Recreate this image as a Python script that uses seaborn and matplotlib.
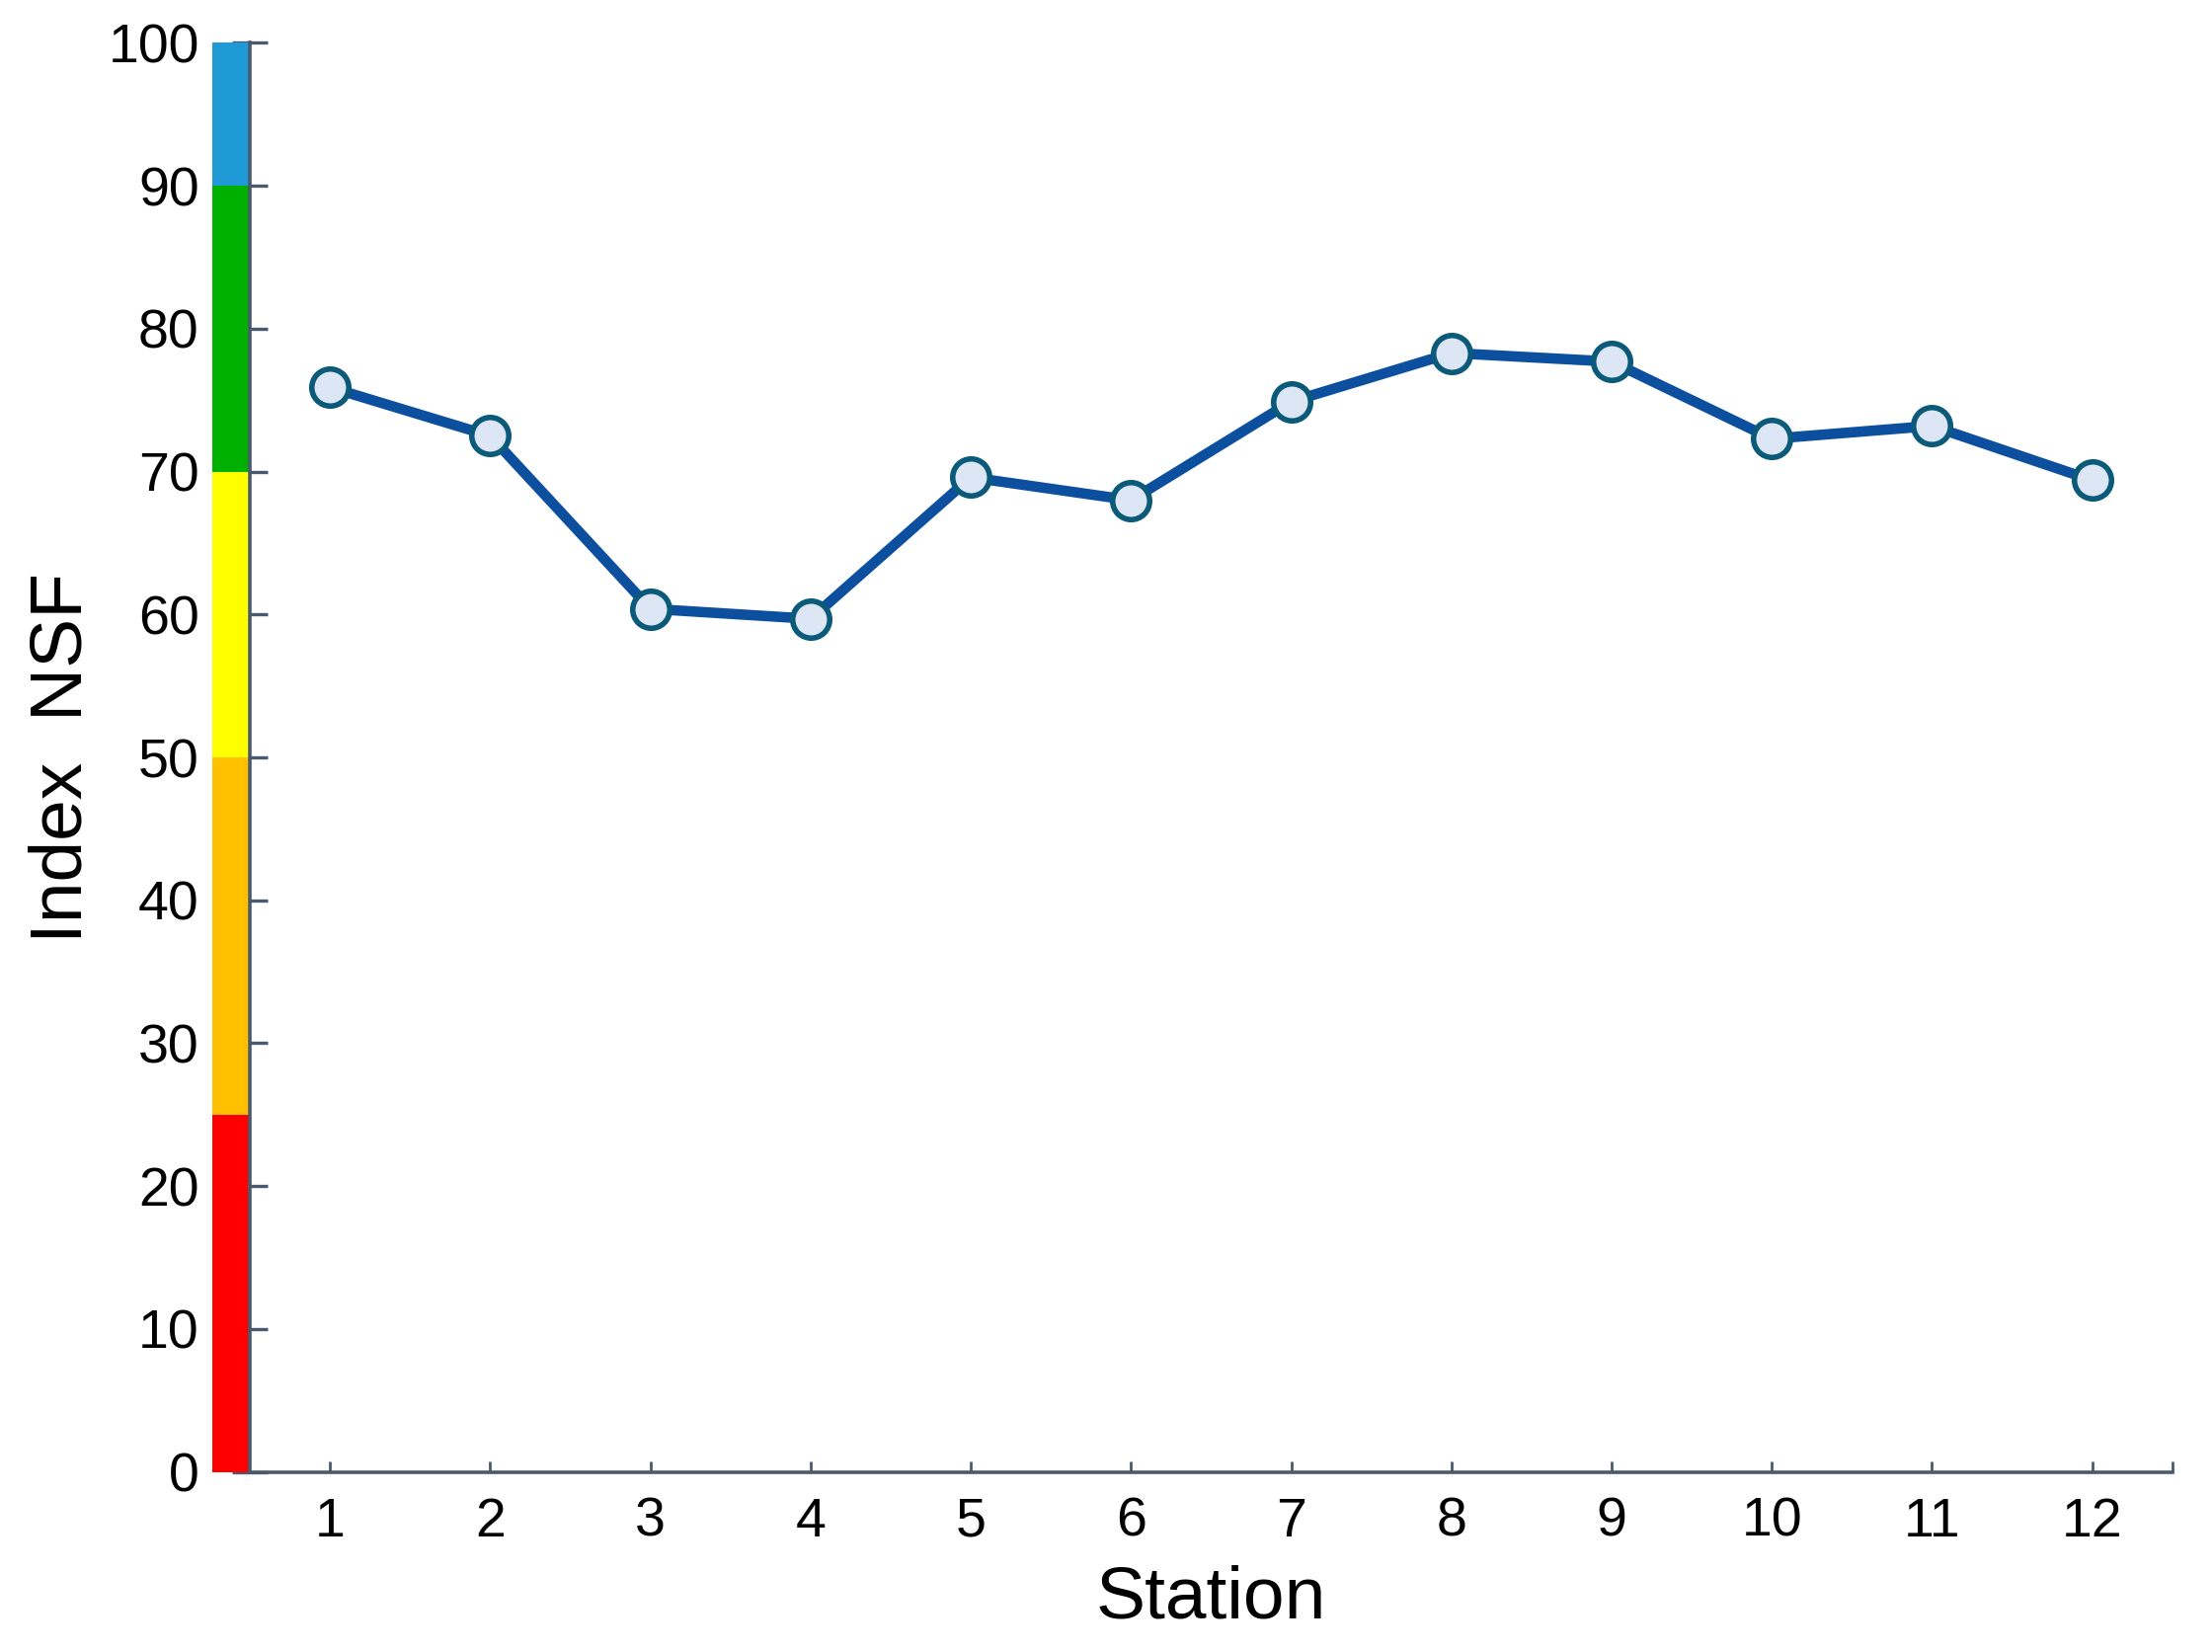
import matplotlib
matplotlib.use("Agg")
import matplotlib.pyplot as plt
import matplotlib.transforms as mtransforms
from matplotlib.ticker import MultipleLocator, FixedLocator
import pandas as pd
import seaborn as sns

# data
stations = [1, 2, 3, 4, 5, 6, 7, 8, 9, 10, 11, 12]
nsf_index = [75.9, 72.5, 60.4, 59.7, 69.6, 68.0, 74.9, 78.3, 77.7, 72.3, 73.2, 69.4]

# quality class bands on the y axis
band_low = [0, 25, 50, 70, 90]
band_high = [25, 50, 70, 90, 100]
band_colors = ["#ff0000", "#ffc000", "#ffff00", "#00b000", "#1f9ad6"]

sns.set_style("white")
plt.rcParams['font.family'] = ['Liberation Sans', 'DejaVu Sans']
plt.rcParams['text.color'] = 'black'
plt.rcParams['axes.labelcolor'] = 'black'
plt.rcParams['xtick.labelcolor'] = 'black'
plt.rcParams['ytick.labelcolor'] = 'black'

df = pd.DataFrame({"Station": stations, "NSF": nsf_index})

fig = plt.figure(figsize=(11.2, 8.365), dpi=200)
ax = fig.add_axes([0.113, 0.109, 0.869, 0.865])

axis_col = "#4a5a6e"

sns.lineplot(data=df, x="Station", y="NSF", ax=ax, color="#0b4f9e", linewidth=3.8,
             marker="o", markersize=13.5, markerfacecolor="#dce6f4",
             markeredgecolor="#0b5a7a", markeredgewidth=2.0, zorder=5)

# coloured band left of the y axis
trans = mtransforms.blended_transform_factory(ax.transAxes, ax.transData)
for lo, hi, c in zip(band_low, band_high, band_colors):
    ax.add_patch(plt.Rectangle((-0.0195, lo), 0.0195, hi - lo, transform=trans,
                               facecolor=c, edgecolor="none", clip_on=False, zorder=1))

ax.set_xlim(0.5, 12.5)
ax.set_ylim(0, 100)
ax.set_xticks(stations)
ax.xaxis.set_minor_locator(FixedLocator([12.5]))
ax.yaxis.set_major_locator(MultipleLocator(10))
ax.yaxis.set_minor_locator(MultipleLocator(2))

for s in ["top", "right"]:
    ax.spines[s].set_visible(False)
for s in ["left", "bottom"]:
    ax.spines[s].set_color(axis_col)
    ax.spines[s].set_linewidth(1.3)
    ax.spines[s].set_zorder(3)

ax.tick_params(axis="y", which="major", direction="inout", length=13, width=1.2,
               color=axis_col, pad=12, labelsize=20, left=True)
ax.tick_params(axis="y", which="minor", direction="out", length=4, width=1.0,
               color=axis_col, left=True)
ax.tick_params(axis="x", which="both", direction="in", length=4, width=1.0,
               color=axis_col, pad=9, labelsize=20, bottom=True)

ax.set_xlabel("Station", fontsize=27, labelpad=6)
ax.set_ylabel("Index  NSF", fontsize=27)
ax.yaxis.set_label_coords(-0.080, 0.5)

fig.savefig("out.png", dpi=200)
